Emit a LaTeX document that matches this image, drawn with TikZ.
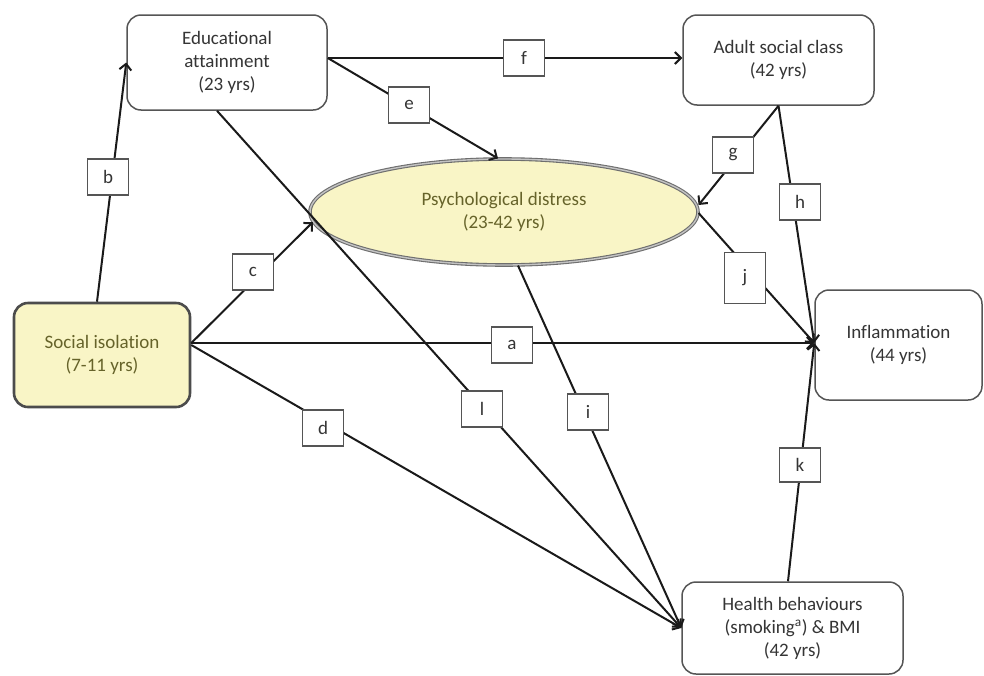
\documentclass[tikz,border=0pt]{standalone}
\usepackage{fontspec}
\setmainfont{Carlito}[Ligatures={NoCommon}]
\usetikzlibrary{arrows.meta,shapes.geometric}
\definecolor{yel}{HTML}{F9F5C6}
\definecolor{olivetext}{HTML}{66632A}
\definecolor{greytext}{HTML}{353535}
\definecolor{boxline}{HTML}{555555}
\definecolor{arrowline}{HTML}{1A1A1A}
\tikzset{
  mainbox/.style={draw=boxline, line width=1.5pt, rounded corners=14pt, fill=white,
    align=center, text=greytext, font=\fontsize{19}{23}\selectfont, inner sep=0pt},
  yelbox/.style={mainbox, fill=yel, draw=boxline!90!black, line width=2.6pt, text=olivetext},
  ellbox/.style={ellipse, draw=boxline!85, double=boxline!35, double distance=1.4pt, line width=1.1pt,
    fill=yel, align=center, text=olivetext, font=\fontsize{19}{23}\selectfont, inner sep=0pt},
  lbl/.style={draw=boxline, line width=1.2pt, fill=white, minimum width=41pt, minimum height=36pt,
    inner sep=0pt, text=greytext, font=\fontsize{19}{21}\selectfont},
  conn/.style={draw=arrowline, line width=2pt, -{Straight Barb[length=6pt,width=12pt,line width=2pt]}}
}
\begin{document}
\begin{tikzpicture}[x=1pt,y=-1pt]
\useasboundingbox (0,0) rectangle (984,675);
\fill[white] (0,0) rectangle (984,675);

% main nodes
\node[mainbox, minimum width=200pt, minimum height=95pt] (edu) at (227,62.5) {Educational\\attainment\\(23 yrs)};
\node[mainbox, minimum width=191pt, minimum height=90pt] (adult) at (778.5,60) {Adult social class\\(42 yrs)};
\node[ellbox, minimum width=388pt, minimum height=106pt] (psy) at (504,212) {Psychological distress\\(23-42 yrs)};
\node[yelbox, minimum width=176pt, minimum height=104pt] (soc) at (102,355) {Social isolation\\(7-11 yrs)};
\node[mainbox, minimum width=167pt, minimum height=110pt] (inf) at (898.5,345) {Inflammation\\(44 yrs)};
\node[mainbox, minimum width=221pt, minimum height=92pt] (hb) at (792.5,628) {Health behaviours\\(smoking\textsuperscript{a}) \& BMI\\(42 yrs)};

% connectors
\draw[conn] ([xshift=-5pt]soc.north) -- (edu.west);
\draw[conn] ([yshift=4.5pt]edu.east) -- ([yshift=2pt]adult.west);
\draw[conn] ([yshift=4.5pt]edu.east) -- ([xshift=-6pt]psy.north);
\draw[conn] (adult.south) -- ([yshift=7pt]psy.east);
\draw[conn] (adult.south) -- ([yshift=2pt]inf.west);
\draw[conn] ([yshift=-1pt]psy.east) -- ([yshift=2pt]inf.west);
\draw[conn] ([yshift=12pt]soc.east) -- (psy.183);
\draw[conn] ([yshift=12pt]soc.east) -- ([yshift=2pt]inf.west);
\draw[conn] ([yshift=10pt]soc.east) -- (hb.west);
\draw[conn] ([xshift=-10pt]edu.south) -- (hb.west);
\draw[conn] ([xshift=14pt]psy.south) -- (hb.west);
\draw[conn] ([xshift=-4.5pt]hb.north) -- ([yshift=2pt]inf.west);

% path labels
\node[lbl] (lb) at (108,177) {b};
\node[lbl] (lf) at (524,58) {f};
\node[lbl] (le) at (409,105) {e};
\node[lbl] (lg) at (733,155) {g};
\node[lbl] (lh) at (800,202) {h};
\node[lbl, minimum height=51pt] (lj) at (745,278) {j};
\node[lbl] (lc) at (253,272) {c};
\node[lbl] (la) at (512,345) {a};
\node[lbl] (ld) at (323,428) {d};
\node[lbl] (ll) at (482,409) {l};
\node[lbl] (li) at (588,412) {i};
\node[lbl, minimum height=34pt] (lk) at (800,465) {k};
\end{tikzpicture}
\end{document}
